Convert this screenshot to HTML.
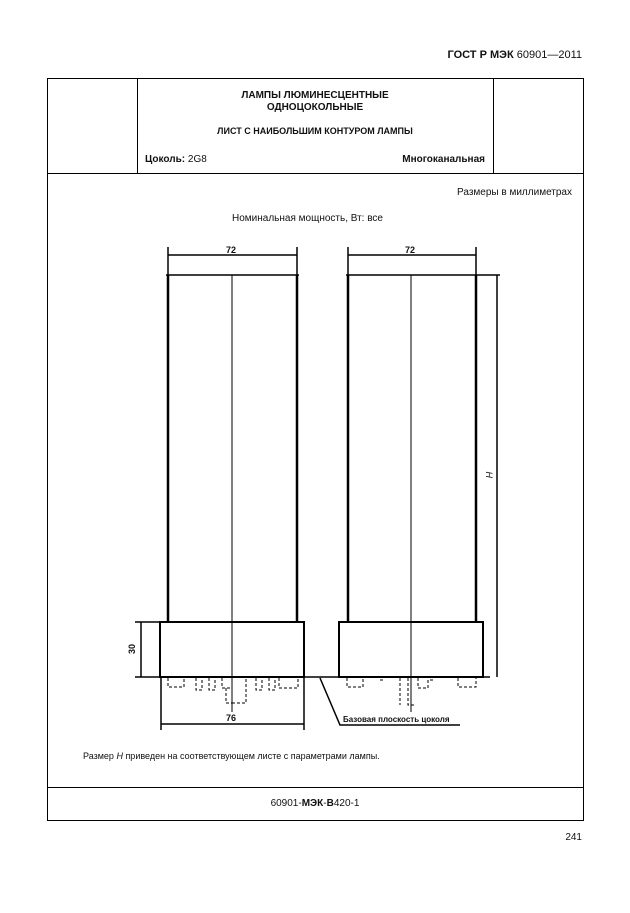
<!DOCTYPE html><html><head><meta charset="utf-8"><style>
body{margin:0;width:630px;height:913px;background:#fff;position:relative;font-family:"Liberation Sans",sans-serif;color:#111}
.t{position:absolute;white-space:nowrap}
</style></head><body>
<div class="t" style="right:48px;top:49px;font-size:11px"><b>ГОСТ Р МЭК</b> 60901—2011</div>
<svg width="630" height="913" style="position:absolute;left:0;top:0" stroke="#000" fill="none">
<rect x="47.5" y="78.5" width="536" height="742" stroke-width="1"/>
<line x1="137.5" y1="78" x2="137.5" y2="173"/>
<line x1="493.5" y1="78" x2="493.5" y2="173"/>
<line x1="47" y1="173.5" x2="584" y2="173.5"/>
<line x1="47" y1="787.5" x2="584" y2="787.5"/>
<!-- left lamp -->
<g stroke-width="2.5"><line x1="168" y1="275" x2="168" y2="622"/><line x1="297" y1="275" x2="297" y2="622"/>
<line x1="348" y1="275" x2="348" y2="622"/><line x1="476" y1="275" x2="476" y2="622"/>
<rect x="160" y="622" width="144" height="55" stroke-width="2"/><rect x="339" y="622" width="144" height="55" stroke-width="2"/></g>
<g stroke-width="1.5"><line x1="166" y1="275" x2="299" y2="275"/><line x1="346" y1="275" x2="500" y2="275"/>
<line x1="135" y1="677" x2="490" y2="677"/>
<line x1="168" y1="247" x2="168" y2="275"/><line x1="297" y1="247" x2="297" y2="275"/>
<line x1="348" y1="247" x2="348" y2="275"/><line x1="476" y1="247" x2="476" y2="275"/>
<line x1="168" y1="255" x2="297" y2="255"/><line x1="348" y1="255" x2="476" y2="255"/>
<line x1="497" y1="275" x2="497" y2="677"/>
<line x1="135" y1="622" x2="160" y2="622"/><line x1="141" y1="622" x2="141" y2="677"/>
<line x1="161" y1="677" x2="161" y2="730"/><line x1="304" y1="677" x2="304" y2="730"/>
<line x1="161" y1="724" x2="304" y2="724"/>
<polyline points="320,678 340,725 460,725"/></g>
<line x1="232" y1="275" x2="232" y2="712" stroke-width="1"/>
<line x1="411" y1="275" x2="411" y2="712" stroke-width="1"/>
<g stroke-width="1" stroke-dasharray="3,2">
<path d="M168 678v9h16v-9 M196 678v12h6v-12 M209 678v12h6v-12 M222 678v10h10 M226 688v15h6 M232 678v25h14v-25 M256 678v12h6v-12 M269 678v12h6v-12 M279 678v10h19v-10"/>
<path d="M347 678v9h16v-9 M408 678v27h8 M400 678v27 M418 678v10h10v-10 M458 678v9h18v-9 M380 680h4 M430 680h4"/>
</g>
</svg>
<div class="t" style="left:137px;width:356px;text-align:center;top:90px;font-size:10px;font-weight:bold;line-height:12px">ЛАМПЫ ЛЮМИНЕСЦЕНТНЫЕ<br>ОДНОЦОКОЛЬНЫЕ</div>
<div class="t" style="left:137px;width:356px;text-align:center;top:126px;font-size:9px;font-weight:bold">ЛИСТ С НАИБОЛЬШИМ КОНТУРОМ ЛАМПЫ</div>
<div class="t" style="left:145px;top:154px;font-size:10px"><b>Цоколь:</b> 2G8</div>
<div class="t" style="right:145px;top:154px;font-size:10px;font-weight:bold">Многоканальная</div>
<div class="t" style="right:58px;top:187px;font-size:10px">Размеры в миллиметрах</div>
<div class="t" style="left:232px;top:213px;font-size:10px">Номинальная мощность, Вт: все</div>
<div class="t" style="left:226px;top:245px;font-size:9px;font-weight:bold">72</div>
<div class="t" style="left:405px;top:245px;font-size:9px;font-weight:bold">72</div>
<div class="t" style="left:226px;top:713px;font-size:9px;font-weight:bold">76</div>
<div class="t" style="left:127px;top:644px;font-size:9px;font-weight:bold;transform:rotate(-90deg)">30</div>
<div class="t" style="left:486px;top:470px;font-size:9px;font-style:italic;transform:rotate(-90deg)">H</div>
<div class="t" style="left:343px;top:715px;font-size:8px;font-weight:bold">Базовая плоскость цоколя</div>
<div class="t" style="left:83px;top:751px;font-size:9px">Размер <i>H</i> приведен на соответствующем листе с параметрами лампы.</div>
<div class="t" style="left:0;width:630px;text-align:center;top:798px;font-size:10px">60901-<b>МЭК</b>-<b>В</b>420-1</div>
<div class="t" style="right:48px;top:832px;font-size:10px">241</div>
</body></html>
